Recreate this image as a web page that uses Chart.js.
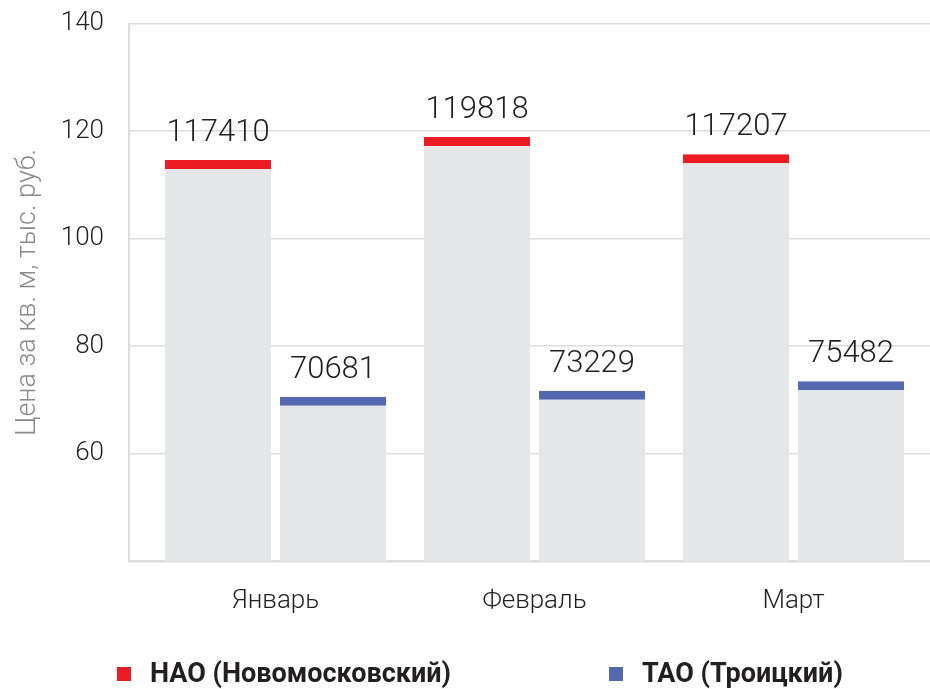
<!DOCTYPE html>
<html lang="ru">
<head>
<meta charset="utf-8">
<script src="https://cdn.jsdelivr.net/npm/chart.js@4/dist/chart.umd.min.js"></script>
<style>
  html, body { margin: 0; padding: 0; background: #fff; }
  #wrap { width: 930px; height: 689px; }
</style>
</head>
<body>
<div id="wrap"><canvas id="priceChart" width="930" height="689"></canvas></div>
<script>
// Месяцы и значения столбцов (тыс. руб. за кв. м, по картинке)
const months = ['Январь', 'Февраль', 'Март'];
const naoValues = [114.6, 118.9, 115.7];
const taoValues = [70.6, 71.7, 73.5];
// подписи над столбцами
const naoLabels = ['117410', '119818', '117207'];
const taoLabels = ['70681', '73229', '75482'];
const seriesNames = ['НАО (Новомосковский)', 'ТАО (Троицкий)'];
const yTicks = [40, 60, 80, 100, 120, 140];

const FONT = 'Roboto, "Noto Sans", sans-serif';
const RED = '#ed1c24';
const BLUE = '#5467b1';
const GREY_BAR = '#e5e6e8';
const GRID = '#dcdcdc';

const ctx = document.getElementById('priceChart').getContext('2d');

// подписи значений над столбцами
const valueLabels = {
    id: 'valueLabels',
    afterDatasetsDraw(chart) {
        const c = chart.ctx;
        c.save();
        c.font = '300 31px ' + FONT;
        c.fillStyle = '#231f20';
        c.textAlign = 'center';
        c.textBaseline = 'alphabetic';
        chart.data.datasets.forEach((ds, i) => {
            chart.getDatasetMeta(i).data.forEach((bar, j) => {
                c.fillText(ds.valueLabels[j], bar.x, bar.y - 19);
            });
        });
        c.restore();
    }
};

// легенда внизу
const bottomLegend = {
    id: 'bottomLegend',
    afterDraw(chart) {
        const c = chart.ctx;
        const startX = [117, 609];
        const y = 674;
        c.save();
        c.font = 'bold 27px ' + FONT;
        c.textBaseline = 'middle';
        c.textAlign = 'left';
        chart.data.datasets.forEach((ds, i) => {
            c.fillStyle = ds.borderColor;
            c.fillRect(startX[i], y - 7, 14, 14);
            c.fillStyle = '#231f20';
            c.fillText(ds.label, startX[i] + 33, y + 1);
        });
        c.restore();
    }
};

const chart = new Chart(ctx, {
    type: 'bar',
    data: {
        datasets: [{
            label: seriesNames[0],
            data: naoValues.map((v, i) => ({ x: i, y: v })),
            valueLabels: naoLabels,
            backgroundColor: GREY_BAR,
            borderColor: RED,
            borderWidth: { top: 9, right: 0, bottom: 0, left: 0 },
            borderSkipped: false
        }, {
            label: seriesNames[1],
            data: taoValues.map((v, i) => ({ x: i, y: v })),
            valueLabels: taoLabels,
            backgroundColor: GREY_BAR,
            borderColor: BLUE,
            borderWidth: { top: 9, right: 0, bottom: 0, left: 0 },
            borderSkipped: false
        }]
    },
    options: {
        responsive: false,
        animation: false,
        categoryPercentage: 0.888,
        barPercentage: 0.9217,
        layout: { padding: { top: 23.5, right: 0, bottom: 54.5, left: 0 } },
        plugins: {
            legend: { display: false },
            tooltip: { enabled: false }
        },
        scales: {
            x: {
                type: 'linear',
                offset: false,
                min: -0.5656,
                max: 2.527,
                afterBuildTicks: (scale) => {
                    scale.ticks = months.map((m, i) => ({ value: i }));
                },
                grid: { display: false },
                border: { display: true, color: GRID, width: 2 },
                ticks: {
                    padding: 17,
                    color: '#231f20',
                    font: { family: FONT, size: 26, weight: 300 },
                    callback: (v) => months[v] ?? ''
                }
            },
            y: {
                min: 40,
                max: 140,
                afterBuildTicks: (scale) => {
                    scale.ticks = yTicks.map(v => ({ value: v }));
                },
                afterFit: (scale) => {
                    scale.width = 129;
                    scale.paddingTop = 0;
                    scale.paddingBottom = 0;
                },
                grid: { color: GRID, lineWidth: 1.6, drawTicks: false },
                border: { display: true, color: GRID, width: 2 },
                ticks: {
                    padding: 25,
                    color: '#231f20',
                    font: { family: FONT, size: 26, weight: 300 },
                    callback: (v) => v === 40 ? '' : v
                },
                title: {
                    display: true,
                    text: 'Цена за кв. м, тыс. руб.',
                    color: '#8a8a8a',
                    font: { family: FONT, size: 27, weight: 300 },
                    padding: { top: 12, bottom: 0 }
                }
            }
        }
    },
    plugins: [valueLabels, bottomLegend]
});
</script>
</body>
</html>
